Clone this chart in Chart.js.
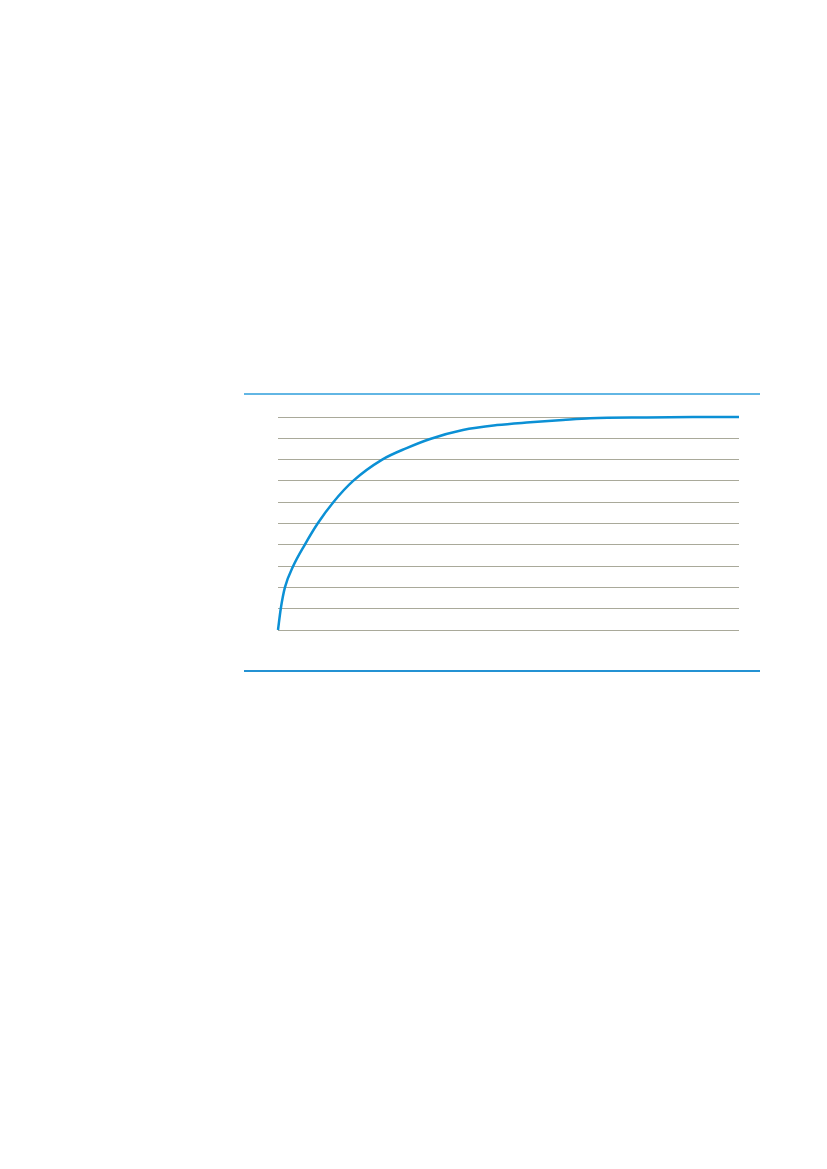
<!DOCTYPE html>
<html>
<head>
<meta charset="utf-8">
<script src="https://cdn.jsdelivr.net/npm/chart.js@4.4.1/dist/chart.umd.min.js"></script>
<style>
  html, body { margin: 0; padding: 0; background: #fff; }
  body { width: 827px; height: 1169px; position: relative; overflow: hidden; }
  #frame {
    position: absolute; left: 244px; top: 393px; width: 516px; height: 275px;
    border-top: 2px solid #62b6e4; border-bottom: 2px solid #2492d3;
    box-sizing: content-box;
  }
  #wrap { position: absolute; left: 244px; top: 395px; width: 516px; height: 275px; }
</style>
</head>
<body>
<div id="frame"></div>
<div id="wrap"><canvas id="chart"></canvas></div>
<script>
// values (x 0..100, y 0..100)
const xValues = [0, 0.6, 1.5, 3.3, 5.8, 8.6, 12.0, 16.3, 22.6, 27.9, 33.0, 40.1, 47.5, 54.7, 61.8, 67.7, 80, 90, 100];
const yValues = [0, 10, 20, 30, 40, 50, 60, 70, 80, 85.4, 89.7, 93.9, 96.2, 97.5, 98.6, 99.4, 99.8, 99.95, 100];
const yTicks = [0, 10, 20, 30, 40, 50, 60, 70, 80, 90, 100];

const points = xValues.map((x, i) => ({ x: x, y: yValues[i] }));

const ctx = document.getElementById('chart').getContext('2d');
new Chart(ctx, {
    type: 'line',
    data: {
        datasets: [
            {
                data: points,
                borderColor: '#0b90d5',
                borderWidth: 2.5,
                pointRadius: 0,
                fill: false,
                cubicInterpolationMode: 'monotone',
                clip: false,
            },
        ],
    },
    options: {
        responsive: true,
        maintainAspectRatio: false,
        animation: false,
        layout: { padding: { left: 34, right: 21, top: 22, bottom: 40 } },
        plugins: { legend: { display: false }, tooltip: { enabled: false } },
        scales: {
            x: { type: 'linear', min: 0, max: 100, display: false },
            y: {
                min: 0,
                max: 100,
                afterBuildTicks: (axis) => { axis.ticks = yTicks.map(v => ({ value: v })); },
                ticks: { display: false },
                border: { display: false },
                grid: { color: '#a9a99a', lineWidth: 1, drawTicks: false },
            },
        },
    },
});
</script>
</body>
</html>
